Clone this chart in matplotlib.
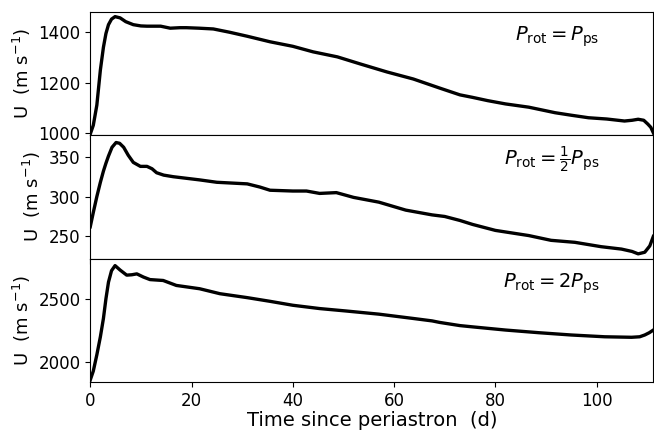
import numpy as np
import matplotlib.pyplot as plt

# --- velocity curves, one per rotation period ---
t_eq = [0, 0.6, 1.3, 2.0, 2.6, 3.1, 3.6, 4.2, 4.9, 5.9, 7.0, 8.5, 10.0, 11.2, 13.9, 15.8, 17.7, 19.0,
        21.5, 24.3, 27.5, 31.0, 35.5, 40.0, 44.0, 48.8, 53.3, 58.6, 63.8, 69.0, 73.0, 75.5, 78.5, 82.0,
        86.6, 91.8, 95.0, 98.4, 102.0, 105.5, 107.0, 108.2, 109.3, 110.1, 110.7, 111.2]
u_eq = [995, 1030, 1110, 1250, 1340, 1395, 1430, 1452, 1462, 1457, 1442, 1430, 1425, 1424, 1424, 1416, 1418, 1418,
        1416, 1413, 1400, 1384, 1362, 1344, 1322, 1302, 1274, 1242, 1214, 1178, 1151, 1141, 1128, 1115,
        1102, 1080, 1070, 1060, 1055, 1047, 1050, 1054, 1050, 1035, 1022, 1000]

t_half = [0, 0.6, 1.3, 2.0, 2.6, 3.1, 3.6, 4.3, 5.1, 5.8, 6.6, 7.5, 8.5, 9.9, 11.2, 12.2, 13.1, 14.5, 16.4,
          19.0, 21.6, 25.0, 28.0, 31.0, 33.5, 35.5, 40.0, 42.7, 45.3, 48.6, 52.0, 57.0, 62.3, 67.5, 70.0,
          73.0, 75.5, 80.0, 86.6, 91.0, 95.7, 100.9, 104.9, 107.0, 108.2, 109.5, 110.5, 111.2]
u_half = [262, 280, 300, 318, 332, 342, 351, 362, 368, 367, 362, 352, 343, 338, 338, 335, 330, 327, 325,
          323, 321, 318, 317, 316, 312, 308, 307, 307, 304, 305, 299, 293, 283, 277, 275,
          270, 265, 257.5, 251, 245, 242.5, 237, 234, 231, 228, 230, 238, 250]

t_double = [0, 0.6, 1.3, 2.0, 2.6, 3.1, 3.6, 4.2, 4.9, 5.9, 7.2, 8.2, 9.2, 10.5, 11.8, 14.4, 17.0, 21.6,
            25.6, 31.0, 35.5, 40.0, 45.3, 50.5, 57.0, 63.8, 67.5, 69.0, 73.0, 75.5, 82.0, 88.6, 95.0,
            101.6, 106.9, 108.5, 109.5, 110.4, 111.2]
u_double = [1860, 1930, 2058, 2200, 2344, 2500, 2630, 2720, 2760, 2725, 2685, 2688, 2695, 2670, 2650, 2643, 2604, 2578,
            2539, 2508, 2479, 2448, 2422, 2403, 2378, 2344, 2325, 2313, 2288, 2278, 2253, 2232, 2214,
            2200, 2196, 2200, 2214, 2232, 2253]

labels = [r"$P_{\rm rot} = P_{\rm ps}$",
          r"$P_{\rm rot} = \frac{1}{2}P_{\rm ps}$",
          r"$P_{\rm rot} = 2P_{\rm ps}$"]
ylims = [(990, 1480), (222, 377), (1845, 2815)]
yticks = [[1000, 1200, 1400], [250, 300, 350], [2000, 2500]]

fig, axes = plt.subplots(3, 1, sharex=True, figsize=(6.54, 4.32), dpi=100)
fig.subplots_adjust(left=0.138, right=0.999, top=0.972, bottom=0.116, hspace=0)

series = [(t_eq, u_eq), (t_half, u_half), (t_double, u_double)]
for ax, (t, u), lab, yl, yt in zip(axes, series, labels, ylims, yticks):
    ax.plot(t, u, color='black', lw=2.4)
    ax.set_ylim(*yl)
    ax.set_yticks(yt)
    ax.tick_params(labelsize=12)
    ax.set_ylabel(r"U  (m s$^{-1}$)", fontsize=13)
    ax.text(0.905, 0.8, lab, transform=ax.transAxes, ha='right', va='center', fontsize=14)

axes[-1].set_xlim(0, 111.2)
axes[-1].set_xticks([0, 20, 40, 60, 80, 100])
axes[-1].set_xlabel("Time since periastron  (d)", fontsize=14, labelpad=1)

plt.savefig("out.png", dpi=100)
